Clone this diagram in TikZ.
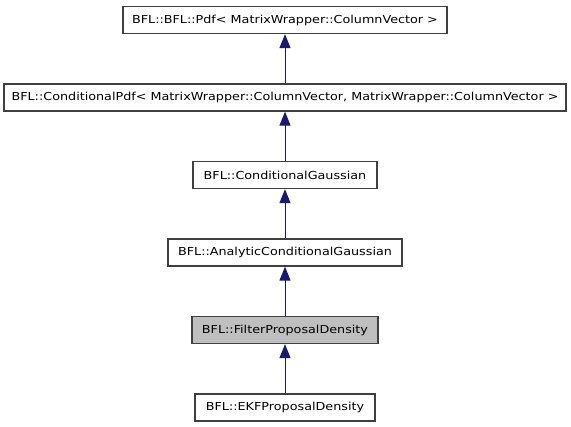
\documentclass[tikz,border=0pt]{standalone}
\usepackage{fontspec}
\setmainfont{DejaVu Sans}[FakeStretch=1.16]
\usetikzlibrary{arrows.meta}
\definecolor{edgeblue}{HTML}{191970}
\definecolor{boxline}{HTML}{404040}
\definecolor{curfill}{HTML}{BFBFBF}
\tikzset{
  cls/.style={draw=boxline, line width=1.3pt, fill=white, minimum height=27pt, inner sep=0pt, font=\fontsize{11}{13}\selectfont, text=black},
  cur/.style={cls, fill=curfill},
  inh/.style={draw=edgeblue, line width=1pt, -{Triangle[length=14pt,width=11pt]}}
}
\begin{document}
\begin{tikzpicture}[x=1pt,y=-1pt]
\useasboundingbox (0,0) rectangle (571,427);
\node[cls, minimum width=324pt] (pdf) at (285,20) {BFL::BFL::Pdf< MatrixWrapper::ColumnVector >};
\node[cls, minimum width=562pt] (cpdf) at (285,97.5) {BFL::ConditionalPdf< MatrixWrapper::ColumnVector, MatrixWrapper::ColumnVector >};
\node[cls, minimum width=184pt] (cg) at (285,175) {BFL::ConditionalGaussian};
\node[cls, minimum width=234pt] (acg) at (285,252.5) {BFL::AnalyticConditionalGaussian};
\node[cur, minimum width=186pt] (fpd) at (285,330) {BFL::FilterProposalDensity};
\node[cls, minimum width=180pt] (ekf) at (285,407.5) {BFL::EKFProposalDensity};
\draw[inh] (cpdf.north) -- (pdf.south);
\draw[inh] (cg.north) -- (cpdf.south);
\draw[inh] (acg.north) -- (cg.south);
\draw[inh] (fpd.north) -- (acg.south);
\draw[inh] (ekf.north) -- (fpd.south);
\end{tikzpicture}
\end{document}
